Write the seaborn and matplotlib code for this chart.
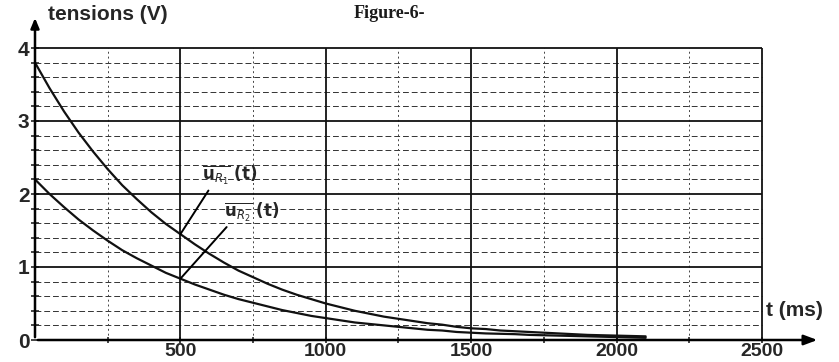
import numpy as np
import pandas as pd
import matplotlib
matplotlib.use("Agg")
import matplotlib.pyplot as plt
import seaborn as sns

# ---- data ----
t_ms = [0, 50, 100, 150, 200, 250, 300, 350, 400, 450, 500, 550, 600, 650,
        700, 750, 800, 850, 900, 950, 1000, 1050, 1100, 1150, 1200, 1250,
        1300, 1350, 1400, 1450, 1500, 1550, 1600, 1650, 1700, 1750, 1800,
        1850, 1900, 1950, 2000, 2050, 2100]
u_r1 = [3.80, 3.45, 3.13, 2.84, 2.58, 2.34, 2.12, 1.93, 1.75, 1.59, 1.45,
        1.31, 1.18, 1.06, 0.95, 0.86, 0.77, 0.69, 0.62, 0.56, 0.50, 0.45,
        0.40, 0.36, 0.32, 0.29, 0.26, 0.23, 0.21, 0.18, 0.16, 0.15, 0.13,
        0.12, 0.11, 0.10, 0.09, 0.08, 0.07, 0.065, 0.06, 0.055, 0.05]
u_r2 = [2.20, 2.00, 1.82, 1.65, 1.50, 1.36, 1.23, 1.12, 1.02, 0.92, 0.84,
        0.76, 0.69, 0.62, 0.56, 0.51, 0.46, 0.41, 0.37, 0.33, 0.30, 0.27,
        0.24, 0.22, 0.20, 0.18, 0.16, 0.14, 0.13, 0.11, 0.10, 0.09, 0.085,
        0.08, 0.07, 0.065, 0.06, 0.055, 0.05, 0.045, 0.04, 0.035, 0.03]
x_ticks = [500, 1000, 1500, 2000, 2500]
y_ticks = [0, 1, 2, 3, 4]
series_names = ["uR1", "uR2"]

df = pd.DataFrame({"t": t_ms * 2,
                   "u": u_r1 + u_r2,
                   "serie": [series_names[0]] * len(t_ms) + [series_names[1]] * len(t_ms)})

sns.set_style("white")
W, H = 839, 362
fig = plt.figure(figsize=(W / 100, H / 100), dpi=100)

# pixel geometry: x=0 at 35px, x=2500 at 762px; y=0 at 340px, y=4 at 48px
xmin, xmax = 0, 2700
ymin, ymax = 0, 4.45
px_per_x = (762 - 35) / 2500
px_per_y = (340 - 48) / 4
left = 35 / W
width = (xmax - xmin) * px_per_x / W
bottom = (H - 340) / H
height = (ymax - ymin) * px_per_y / H
ax = fig.add_axes([left, bottom, width, height])
ax.set_xlim(xmin, xmax)
ax.set_ylim(ymin, ymax)
for s in ax.spines.values():
    s.set_visible(False)

# minor dashed grid
minor_x = [250, 750, 1250, 1750, 2250]
minor_y = [v / 5 for v in range(0, 21) if v % 5 != 0]
ax.hlines(minor_y, 0, 2500, colors="#333333", linestyles=(0, (6, 3)), lw=0.7, zorder=1)
ax.vlines(minor_x, 0, 4, colors="#444444", linestyles=(0, (2, 3)), lw=0.7, zorder=1)
# major solid grid
ax.hlines([1, 2, 3, 4], 0, 2500, colors="#111111", lw=1.3, zorder=2)
ax.vlines([500, 1000, 1500, 2000, 2500], 0, 4, colors="#111111", lw=1.3, zorder=2)

# curves
sns.lineplot(data=df, x="t", y="u", hue="serie", palette=["#111111", "#111111"],
             linewidth=1.6, legend=False, ax=ax, zorder=4)
ax.set_xlabel("")
ax.set_ylabel("")

# axes with arrows
ax.annotate("", xy=(2700, 0), xytext=(0, 0),
            arrowprops=dict(arrowstyle="-|>,head_length=0.8,head_width=0.3", color="black", lw=1.8),
            zorder=5, annotation_clip=False)
ax.annotate("", xy=(0, 4.45), xytext=(0, 0),
            arrowprops=dict(arrowstyle="-|>,head_length=0.6,head_width=0.25", color="black", lw=1.8),
            zorder=5, annotation_clip=False)

# small tick marks on axes
ax.set_xticks(x_ticks)
ax.set_xticks(minor_x, minor=True)
ax.set_yticks(y_ticks)
ax.set_yticks(minor_y, minor=True)
ax.set_xticklabels([str(v) for v in x_ticks], fontsize=14, fontweight="bold",
                   family="Liberation Sans")
ax.set_yticklabels([str(v) for v in y_ticks], fontsize=15, fontweight="bold",
                   family="Liberation Sans")
ax.tick_params(axis="x", which="both", direction="inout", length=5, width=1.2,
               bottom=True, pad=0)
ax.tick_params(axis="y", which="both", direction="inout", length=6, width=1.2,
               left=True, pad=1)

# axis labels
fig.text(48 / W, 1 - 14 / H, "tensions (V)", fontsize=15, fontweight="bold",
         family="Liberation Sans", va="center", ha="left")
fig.text(766 / W, 1 - 311 / H, "t (ms)", fontsize=15, fontweight="bold",
         family="Liberation Sans", va="center", ha="left")
fig.text(389 / W, 1 - 14 / H, "Figure-6-", fontsize=13, fontweight="bold",
         family="Liberation Serif", va="center", ha="center", color="#1a1a1a")

# curve labels with leader lines
ax.annotate(r"$\overline{\mathbf{u}_{R_1}}$ (t)", xy=(500, 1.45),
            xytext=(575, 2.25), fontsize=12, fontweight="bold",
            ha="left", va="center", zorder=6,
            arrowprops=dict(arrowstyle="-", color="black", lw=1.4,
                            shrinkA=0, shrinkB=0, relpos=(0.15, 0.0)))
ax.annotate(r"$\overline{\mathbf{u}_{R_2}}$ (t)", xy=(500, 0.84),
            xytext=(650, 1.75), fontsize=12, fontweight="bold",
            ha="left", va="center", zorder=6,
            arrowprops=dict(arrowstyle="-", color="black", lw=1.4,
                            shrinkA=0, shrinkB=0, relpos=(0.1, 0.0)))

fig.savefig("out.png", dpi=100)
